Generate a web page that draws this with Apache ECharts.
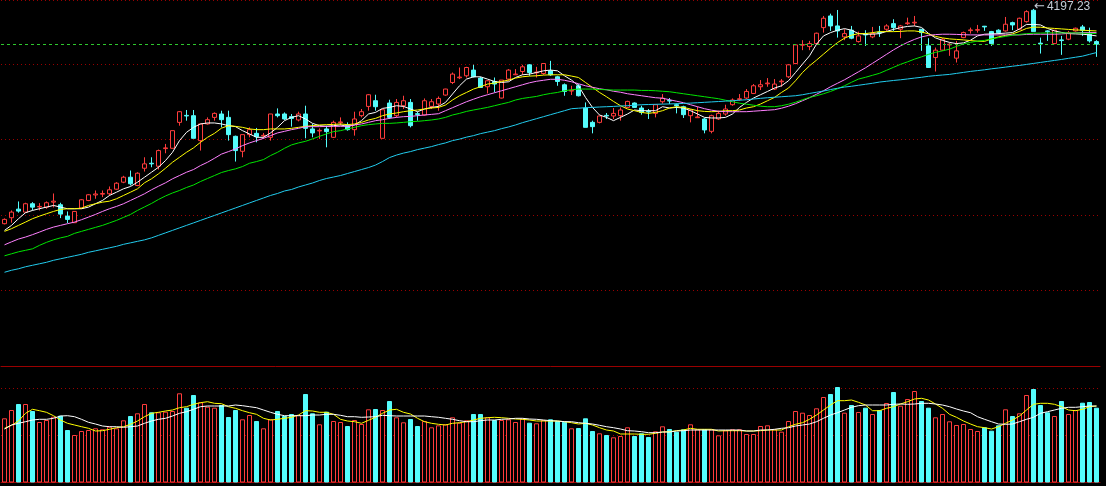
<!DOCTYPE html>
<html>
<head>
<meta charset="utf-8">
<script src="https://cdn.jsdelivr.net/npm/echarts/dist/echarts.min.js"></script>
<style>
html,body{margin:0;padding:0;background:#000;}
#c{width:1106px;height:486px;}
</style>
</head>
<body>
<div id="c"></div>
<script>
const open = [
3551.1,3569.1,3594.9,3585.9,3611.1,3601.5,3600.9,3615.9,3608.1,3573.9,
3554.1,3597.9,3621,3637.5,3639.9,3641.1,3654.9,3675.9,3690.9,3666,
3717.9,3732.9,3723.9,3777,3777.9,3855.9,3876.9,3876,3801,3851.1,
3870.9,3881.1,3870.9,3813.9,3768.9,3819,3822.9,3815.1,3810.9,3881.1,
3881.1,3873,3863.1,3881.1,3836.1,3830.1,3836.1,3810.9,3855,3846,
3834,3876,3903.9,3921,3807.9,3914.1,3876,3906,3915.9,3882,
3878.1,3903.9,3911.1,3938.1,3975.9,3990,3996,4013.1,3989.1,3963,
3978.9,3929.1,3986.1,3999,4008.9,4029,4005,4002.9,4011,3993,
3969,3950.1,3966,3899.1,3855.9,3855.9,3876.9,3875.1,3876,3900.9,
3914.1,3899.1,3888.9,3882.9,3918,3921.9,3909,3903,3876,3870,
3866.1,3828.9,3866.1,3881.1,3909,3924.9,3929.1,3942.9,3963,3972,
3956.1,3978,3993,4032.9,4088.1,4083.9,4092.9,4140.9,4176,4146,
4113,4133.1,4098.9,4121.1,4113,4127.1,4136.1,4152.9,4136.1,4152.9,
4155,4136.1,4086,4050.9,4073.1,4089,4049.1,4110.9,4131.9,4133.1,
4145.1,4128.9,4133.1,4131,4155.9,4136.1,4158.9,4193.1,4094.1,4131,
4092.9,4104,4106.1,4131,4143,4121.1,4098.9];
const close = [
3564,3585.9,3588.9,3611.1,3600.9,3603,3614.1,3618.9,3579.9,3564,
3588,3623.1,3638.1,3640.5,3642,3653.1,3672.9,3690.9,3671.1,3702.9,
3731.1,3731.1,3771,3779.1,3831,3888,3875.1,3807.9,3851.1,3864,
3882.9,3864,3819,3771,3819,3834,3813,3816.9,3881.1,3876,
3866.1,3867.9,3881.1,3837.9,3824.1,3831.9,3828,3855.9,3857.1,3834,
3866.1,3888,3939,3903,3894,3870.9,3915.9,3921,3846,3879.9,
3921,3918,3927.9,3956.1,4001.1,3992.1,4020.9,3993,3960.9,3981,
3971.1,3983.1,4013.1,4001.1,4023,4005.9,4007.1,4032.9,3999,3978.9,
3948.9,3951.9,3936,3840.9,3843,3875.1,3875.1,3882.9,3893.1,3918.9,
3900.9,3885.9,3887.1,3909,3928.5,3920.1,3906,3879,3893.1,3872.1,
3833.1,3876,3882.9,3896.1,3923.1,3927,3948.9,3966,3969,3974.1,
3971.1,3980.1,4029,4089,4089.9,4092.9,4124.1,4169.1,4146,4131,
4122.9,4109.1,4116,4119,4122.9,4125,4146,4140.9,4146,4155,
4157.1,4125.9,4020.9,4073.1,4106.1,4091.1,4071,4125.9,4134,4134.9,
4143,4092.9,4125.9,4151.1,4149,4169.1,4188.9,4128.9,4092,4128.9,
4133.1,4101.9,4125.9,4139.1,4133.1,4101,4091.1];
const low = [
3549,3554.1,3584.1,3584.1,3591,3591,3596.1,3600,3567.9,3552.9,
3554.1,3596.1,3618.9,3626.1,3630.9,3636,3653.1,3672.9,3666,3663.9,
3708,3720.9,3714,3762.9,3777.9,3846,3861,3807.9,3771,3849,
3861,3840.9,3801,3738,3750.9,3810.9,3795.9,3806.1,3801,3870.9,
3863.1,3843,3858.9,3807.9,3810.9,3806.1,3780.9,3809.1,3846,3831,
3816,3870.9,3891,3891,3807.9,3866.1,3870.9,3896.1,3840.9,3861,
3876,3896.1,3891,3936,3971.1,3986.1,3990.9,3990.9,3960.9,3942.9,
3945.9,3927.9,3981,3998.1,3999,3996,3990.9,3999,3996,3966,
3936,3938.1,3933.9,3840.9,3822.9,3852.9,3866.1,3866.1,3861,3899.1,
3899.1,3879,3866.1,3870.9,3912,3911.1,3882.9,3869.1,3855.9,3869.1,
3822.9,3822.9,3863.1,3876,3906,3921,3926.1,3941.1,3953.1,3963,
3953.1,3963,3989.1,4031.1,4073.1,4073.1,4091.1,4125.9,4131,4110.9,
4103.1,4106.1,4095.9,4086,4109.1,4113,4131,4131,4109.1,4149,
4146,4071,4020.9,4008.9,4071,4056,4035.9,4109.1,4122.9,4125.9,
4131,4086,4121.1,4128.9,4133.1,4133.1,4155.9,4128.9,4062.9,4101,
4091.1,4059,4103.1,4128.9,4116,4095.9,4053];
const high = [
3567,3591,3618,3614.1,3615.9,3612.9,3618,3642,3614.1,3588,
3588,3624.9,3639.9,3651,3651,3663,3675.9,3695.1,3711,3705.9,
3750.9,3750.9,3774,3791.1,3831,3890.1,3893.1,3893.1,3851.1,3870.9,
3885.9,3891,3891,3816,3819,3840.9,3839.1,3824.1,3881.1,3897.9,
3885.9,3881.1,3888,3906,3851.1,3837.9,3846,3861,3870.9,3855.9,
3888,3896.1,3941.1,3939,3894,3924,3926.1,3936,3926.1,3888,
3927.9,3926.1,3933.9,3957,4005.9,4020.9,4023,4029,3993,3983.1,
3990.9,3983.1,4016.1,4016.1,4029,4031.1,4023,4032.9,4041,3996,
3972.9,3966,3971.1,3915.9,3861,3876,3884.1,3899.1,3900.9,3921,
3915.9,3906,3896.1,3911.1,3941.1,3929.1,3912.9,3906,3896.1,3903,
3869.1,3879,3891,3909,3927.9,3941.1,3956.1,3971.1,3983.1,3989.1,
3986.1,3986.1,4031.1,4091.1,4103.1,4101,4125.9,4176,4182.9,4194,
4136.1,4146,4128.9,4133.1,4143,4146,4151.1,4166.1,4149,4170.9,
4176,4136.1,4109.1,4080.9,4109.1,4095.9,4101,4128.9,4140.9,4149,
4146,4131,4136.1,4173,4158.9,4170.9,4193.1,4197.23,4110.9,4133.1,
4133.1,4116,4131,4140.9,4149,4140.9,4103.1];
const volume = [
6420,7250,7850,7850,7150,6050,6250,6580,6680,5250,
4750,5150,5250,5420,5320,5580,5420,6220,6650,6920,
7850,7020,7020,7080,7150,8920,7480,8750,8020,7580,
7480,7750,6550,7250,6320,6750,6150,5420,6320,7150,
6650,6850,6750,8850,6920,5820,7080,6150,6050,5650,
6250,5850,7320,7350,7250,8150,6520,6020,6350,5650,
6150,5520,5720,5820,6520,5980,6220,6850,6850,6520,
6250,6250,6320,6050,6380,5980,5920,6250,6320,6150,
6080,5420,5450,6420,5150,4920,4750,4520,4650,5520,
4650,4920,4550,5120,5620,5350,5080,5320,5820,5320,
5320,5320,4720,5220,5320,5320,4850,4850,5650,5720,
5320,5080,6150,7150,6980,6750,7420,8550,8850,9550,
6980,7750,7050,7480,6850,7250,7950,9050,7680,8350,
9150,8150,7480,6520,6850,6120,5750,5850,5350,5150,
5520,5180,5720,7320,6650,6920,8750,9350,7750,7020,
6650,8150,6850,7250,7980,8050,7480];
const ma5 = [
3531,3546,3566.1,3584.1,3591,3596.1,3600.9,3606,3600.9,3596.1,
3596.1,3596.1,3600.9,3611.1,3621,3636,3645.9,3656.1,3663,3675.9,
3690.9,3705.9,3720.9,3741,3765.9,3801,3825.9,3840.9,3851.1,3854.1,
3854.1,3851.1,3846,3843,3831,3821.1,3810.9,3810.9,3824.1,3840.9,
3861,3870.9,3876,3866.1,3852.9,3846,3843.9,3846,3848.1,3843.9,
3848.1,3861,3881.1,3885.9,3897.9,3900.9,3906,3903.9,3896.1,3888,
3896.1,3900.9,3903.9,3915.9,3941.1,3966,3986.1,3993,3993,3986.1,
3978.9,3975.9,3978,3990.9,3999,4001.1,4005.9,4011,4013.1,4011,
3996,3983.1,3966,3930.9,3900.9,3878.1,3870.9,3861,3870.9,3881.1,
3893.1,3891,3891,3891,3903,3899.1,3900.9,3899.1,3891,3881.1,
3870.9,3869.1,3869.1,3870.9,3881.1,3900.9,3915.9,3929.1,3939,3948.9,
3959.1,3966,3981,4005.9,4031.1,4056,4091.1,4116,4125.9,4133.1,
4137.9,4133.1,4122.9,4121.1,4121.1,4122.9,4129.5,4135.5,4140.9,4144.5,
4146,4141.5,4123.5,4110,4102.5,4096.5,4092.9,4095,4103.1,4116,
4121.1,4122,4122.9,4124.4,4125.9,4137,4150.5,4150.5,4149,4138.5,
4131,4126.5,4122.9,4122,4121.1,4119,4116];
const ma10 = [
3528,3536.1,3546,3555.9,3566.1,3573.9,3581.1,3588,3594,3596.1,
3596.1,3597.9,3606,3611.1,3615.9,3618.9,3626.1,3636,3645.9,3656.1,
3674.1,3686.1,3701.1,3717.9,3735.9,3750.9,3765.9,3779.1,3795.9,3810.9,
3822.9,3838.5,3846,3843.9,3840.9,3836.1,3834,3834,3836.1,3836.1,
3836.1,3837.9,3840.9,3843.9,3846,3848.1,3849,3849.9,3851.1,3849,
3851.1,3855.9,3863.1,3867.9,3876,3881.1,3884.1,3888,3891,3893.1,
3896.1,3899.1,3900.9,3908.1,3923.1,3936,3945.9,3956.1,3963,3971.1,
3974.1,3978.9,3983.1,3989.1,3993,3995.1,3996,3998.1,3999,3999,
3999,3995.1,3990.9,3975.9,3960.9,3945.9,3933,3918.9,3906,3896.1,
3891,3885.9,3882.9,3885.9,3891,3899.1,3903,3900.9,3896.1,3891,
3888.9,3888,3888.9,3891,3891,3893.1,3899.1,3903,3911.1,3921,
3930.9,3945.9,3959.1,3981,4005.9,4026,4043.1,4061.1,4079.1,4095.9,
4109.1,4118.1,4122.9,4122.9,4125.9,4128.9,4128.9,4128.9,4129.5,4131,
4131,4128,4122,4114.5,4110,4107,4105.5,4104,4101.9,4100.1,
4099.5,4107,4113,4117.5,4122,4129.5,4138.5,4142.4,4142.1,4140,
4138.5,4137,4135.5,4134,4133.1,4131.9,4131];
const ma20 = [
3487.5,3496.5,3504.9,3510.9,3518.1,3525.9,3534,3540.9,3546,3551.1,
3555.9,3563.1,3570.9,3579,3588,3596.1,3603,3611.1,3621,3630.9,
3641.1,3653.1,3663.9,3674.1,3686.1,3696,3705.9,3714,3726,3735.9,
3747.9,3760.5,3768,3776.1,3786,3794.1,3801,3807.9,3816,3824.1,
3828.9,3834,3837.9,3843,3843,3843,3843.9,3843.9,3843.9,3843.9,
3848.1,3851.1,3855.9,3861,3864,3867.9,3870.9,3873,3873.9,3876,
3878.1,3879.9,3882,3891,3900,3909,3918,3925.5,3933,3939,
3945,3951,3957,3963,3969,3975,3979.5,3982.5,3985.5,3985.5,
3982.5,3978,3972,3966,3961.5,3957,3954,3949.5,3946.5,3942,
3939,3936,3933,3930,3928.5,3924,3919.5,3915,3909,3903,
3897,3892.5,3889.5,3888,3888,3888,3888,3889.5,3891,3892.5,
3894,3898.5,3904.5,3912,3921,3930,3940.5,3951,3963,3973.5,
3984,3996,4008,4020,4033.5,4047,4060.5,4074,4086,4096.5,
4105.5,4113,4117.5,4119.9,4121.1,4121.1,4120.5,4119.6,4119,4119,
4119,4119,4119,4119,4119,4119,4120.5,4121.1,4121.1,4121.1,
4121.1,4122,4123.5,4125,4125.9,4125.9,4125.9];
const ma30 = [
3454.5,3460.5,3466.5,3471,3475.5,3486,3495,3502.5,3508.5,3513,
3522,3528,3534,3540,3546,3553.5,3561,3570,3579,3591,
3601.5,3612,3624,3634.5,3643.5,3651,3660,3667.5,3678,3687,
3696,3705,3711,3716.1,3723,3732.9,3738,3744,3756,3765.9,
3777.9,3788.1,3794.1,3798.9,3806.1,3813.9,3821.1,3828,3831,3836.1,
3840.9,3846,3849,3851.1,3852.9,3852.9,3854.1,3855.9,3858,3858.9,
3861,3863.1,3866.1,3870.9,3878.1,3882.9,3888.9,3893.1,3897,3900.9,
3906,3911.1,3915.9,3923.1,3927.9,3930.9,3933.9,3939,3942.9,3945.9,
3951,3954,3956.1,3956.1,3956.1,3954.9,3954,3953.1,3953.1,3953.1,
3953.1,3951.9,3951.9,3951,3949.5,3948,3945,3942,3939,3936,
3933,3930,3927,3922.5,3918,3913.5,3910.5,3907.5,3904.5,3903,
3903,3906,3910.5,3916.5,3924,3930.9,3936,3942,3948.9,3957,
3966,3976.5,3986.1,3991.5,3997.5,4003.5,4012.5,4021.5,4030.5,4038,
4046.1,4053,4060.5,4066.5,4071,4076.1,4084.5,4092,4096.5,4100.4,
4102.5,4107,4110.9,4114.5,4118.1,4120.5,4122.6,4124.1,4124.4,4125,
4125,4125,4125,4125,4124.4,4123.5,4122.9];
const ma60 = [
3405,3411,3415.5,3421.5,3426,3430.5,3435,3441,3445.5,3450,
3454.5,3459,3465,3469.5,3474,3478.5,3483,3489,3493.5,3498,
3502.5,3508.5,3516,3523.5,3531,3538.5,3546,3553.5,3561,3568.5,
3576,3583.5,3591,3598.5,3606,3613.5,3621,3628.5,3636,3642,
3649.5,3654,3661.5,3667.5,3673.5,3681,3687,3691.5,3696,3702,
3708,3714,3720,3727.5,3738,3750,3757.5,3763.5,3768,3774,
3778.5,3783,3789,3794.1,3801,3805.5,3811.5,3816,3822,3826.5,
3831,3837,3842.1,3848.1,3855,3861,3867,3873,3879,3885,
3891,3897,3898.5,3900,3900.9,3902.1,3903,3903.9,3905.1,3906,
3907.5,3909,3909.6,3910.2,3910.8,3911.4,3912,3912.9,3913.8,3915,
3916.2,3917.4,3918.6,3919.8,3921,3922.5,3924,3926.1,3928.2,3930,
3931.5,3933,3934.5,3936,3939,3942.9,3946.5,3950.1,3954.6,3958.5,
3962.1,3964.5,3967.5,3970.5,3973.5,3977.1,3979.5,3981.9,3984,3986.4,
3989.1,3991.5,3994.5,3996.6,3998.4,4000.2,4003.2,4006.2,4009.2,4011.6,
4014,4017,4019.4,4022.1,4024.8,4027.2,4030.2,4033.2,4036.2,4039.2,
4042.2,4045.2,4048.5,4051.8,4055.1,4060.5,4065.9];
const vma5 = [
5420,5720,6150,6920,7320,7180,7020,6680,6250,5920,
5750,5580,5420,5150,5180,5320,5480,5580,5820,6150,
6580,6920,7020,7150,7250,7480,7580,7820,7980,8080,
7920,7880,7580,7420,7180,6980,6820,6420,6250,6320,
6420,6520,6750,7180,7150,7020,7020,6820,6320,6150,
6080,5920,6220,6520,6920,7250,7320,7020,6850,6420,
6080,5920,5820,5750,5920,5980,6080,6250,6420,6480,
6520,6480,6420,6350,6320,6250,6150,6150,6150,6150,
6080,5980,5850,5920,5750,5480,5250,5150,4850,4850,
4850,4820,4820,4920,5050,5080,5180,5250,5420,5320,
5320,5320,5150,5180,5180,5180,5150,5150,5180,5250,
5250,5250,5580,5820,5980,6320,6750,7250,7750,8180,
8180,8250,8020,7750,7180,7180,7420,7580,7850,8080,
8350,8420,8250,7850,7420,6820,6520,6150,5850,5580,
5480,5350,5580,5920,6250,6650,7250,7820,7920,7920,
7820,7580,7250,7180,7320,7580,7650];
const vma10 = [
5350,5750,5920,6080,6250,6320,6320,6420,6650,6680,
6580,6320,6020,5850,5650,5580,5580,5520,5580,5650,
5920,6150,6320,6420,6650,6920,7080,7320,7580,7650,
7650,7650,7650,7750,7680,7580,7480,7250,7020,6820,
6680,6680,6680,6680,6750,6750,6820,6820,6720,6580,
6580,6520,6550,6580,6720,6680,6650,6650,6650,6650,
6650,6580,6520,6420,6320,6180,6080,6080,6180,6250,
6250,6320,6350,6420,6420,6350,6320,6250,6180,6150,
6080,6080,5980,5920,5850,5720,5580,5480,5350,5180,
5150,5080,4980,4980,5050,5050,5150,5180,5250,5250,
5250,5250,5250,5250,5250,5250,5150,5150,5250,5250,
5320,5420,5480,5650,5750,5850,6080,6420,6750,6980,
7250,7520,7680,7750,7750,7750,7750,7820,7850,7820,
7850,7920,7920,7850,7750,7580,7350,7150,6980,6580,
6320,6080,5850,5820,5850,6080,6320,6520,6920,7080,
7250,7420,7520,7520,7580,7650,7650];
const categories = open.map((_, i) => 'D' + (i + 1));

const UP = '#ff3c3c', DOWN = '#54fcfc', GRIDC = '#9a0000';
const candles = open.map((o, i) => [o, close[i], low[i], high[i]]);
const volData = volume.map((v, i) => ({
  value: v,
  itemStyle: close[i] >= open[i]
    ? { color: '#000', borderColor: UP, borderWidth: 1 }
    : { color: DOWN, borderColor: DOWN, borderWidth: 1 }
}));
const lastClose = close[close.length - 1];

function maLine(name, data, color, xi, yi) {
  return { name, type: 'line', data, xAxisIndex: xi, yAxisIndex: yi, showSymbol: false, symbol: 'none',
    silent: true, lineStyle: { color, width: 1 }, z: 3 };
}

const chart = echarts.init(document.getElementById('c'), null, { renderer: 'canvas' });
chart.setOption({
  animation: false,
  backgroundColor: '#000',
  grid: [
    { left: 1, right: 6, top: -1, height: 367 },
    { left: 1, right: 6, top: 366, height: 116.5 }
  ],
  xAxis: [
    { type: 'category', gridIndex: 0, data: categories, boundaryGap: true,
      axisLine: { show: true, lineStyle: { color: GRIDC, width: 1 } },
      axisTick: { show: false }, axisLabel: { show: false }, splitLine: { show: false } },
    { type: 'category', gridIndex: 1, data: categories, boundaryGap: true,
      axisLine: { show: true, lineStyle: { color: GRIDC, width: 1 } },
      axisTick: { show: false }, axisLabel: { show: false }, splitLine: { show: false } }
  ],
  yAxis: [
    { type: 'value', gridIndex: 0, min: 3123, max: 4224, scale: true,
      axisLine: { show: false }, axisTick: { show: false }, axisLabel: { show: false }, splitLine: { show: false } },
    { type: 'value', gridIndex: 0, min: 0, max: 1101, interval: 227.1,
      axisLine: { show: false }, axisTick: { show: false }, axisLabel: { show: false },
      splitLine: { show: true, lineStyle: { color: GRIDC, type: [1, 3], width: 1 } } },
    { type: 'value', gridIndex: 1, min: 0, max: 11650, interval: 4735,
      axisLine: { show: false }, axisTick: { show: false }, axisLabel: { show: false },
      splitLine: { show: true, lineStyle: { color: GRIDC, type: [1, 3], width: 1 } } }
  ],
  series: [
    { name: 'K', type: 'candlestick', data: candles, xAxisIndex: 0, yAxisIndex: 0, barWidth: 5, z: 2,
      itemStyle: { color: '#000', color0: DOWN, borderColor: UP, borderColor0: DOWN, borderWidth: 1 },
      markPoint: {
        symbol: 'circle', symbolSize: 1, itemStyle: { color: 'rgba(0,0,0,0)' },
        data: [{ type: 'max', valueDim: 'highest' }],
        label: { show: true, position: 'right', distance: 0, offset: [0, -2],
          formatter: p => '{a|\u2190}{b|' + p.value + '}',
          rich: {
            a: { color: '#c4ccd6', fontSize: 13, fontFamily: 'DejaVu Sans', padding: [0, 2, 0, 0] },
            b: { color: '#c4ccd6', fontSize: 12, fontFamily: 'Liberation Sans, Arial' }
          } }
      },
      markLine: {
        silent: true, symbol: ['none', 'none'], label: { show: false },
        lineStyle: { color: '#2ec82e', type: [3, 3], width: 1 },
        data: [{ yAxis: lastClose }]
      }
    },
    maLine('MA5', ma5, '#ffffff', 0, 0),
    maLine('MA10', ma10, '#ffff00', 0, 0),
    maLine('MA20', ma20, '#ff80ff', 0, 0),
    maLine('MA30', ma30, '#00e600', 0, 0),
    maLine('MA60', ma60, '#22ccee', 0, 0),
    { name: 'VOL', type: 'bar', data: volData, xAxisIndex: 1, yAxisIndex: 2, barWidth: 5, z: 2 },
    maLine('VMA5', vma5, '#ffff00', 1, 2),
    maLine('VMA10', vma10, '#ffffff', 1, 2)
  ]
});
</script>
</body>
</html>
